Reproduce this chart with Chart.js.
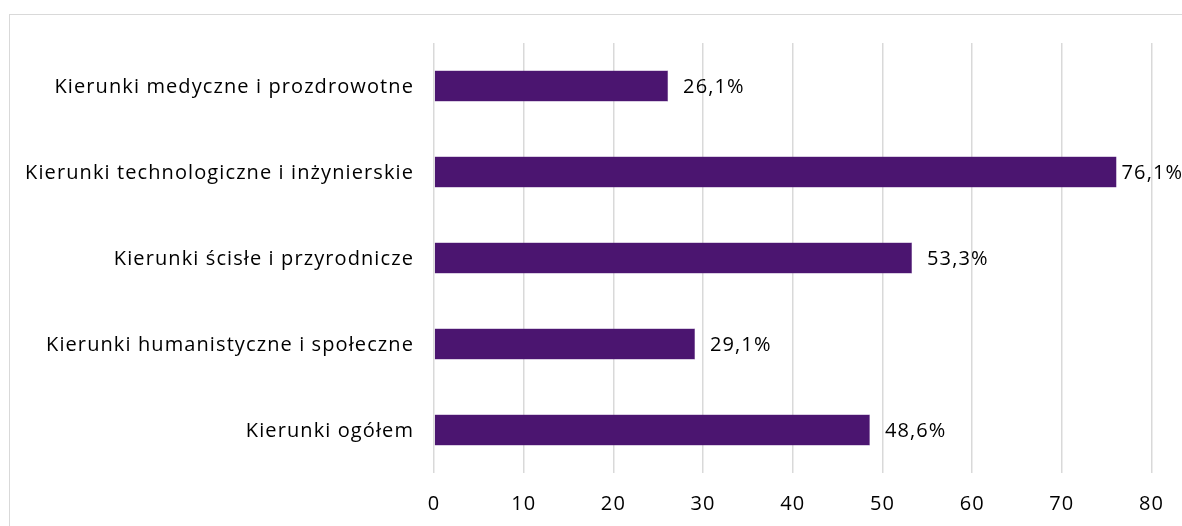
<!DOCTYPE html>
<html>
<head>
<meta charset="utf-8">
<script src="https://cdn.jsdelivr.net/npm/chart.js@4"></script>
<style>
  html, body { margin: 0; padding: 0; background: #fff; overflow: hidden; }
  #wrap { position: relative; width: 1182px; height: 526px; }
  #frame { position: absolute; left: 9px; top: 14px; width: 1200px; height: 600px;
           border-top: 1.5px solid #d9d9d9; border-left: 1.5px solid #d9d9d9; }
  canvas { position: absolute; left: 0; top: 0; }
</style>
</head>
<body>
<div id="wrap">
  <div id="frame"></div>
  <canvas id="chart" width="1182" height="526"></canvas>
</div>
<script>
'use strict';

const categories = [
    'Kierunki medyczne i prozdrowotne',
    'Kierunki technologiczne i inżynierskie',
    'Kierunki ścisłe i przyrodnicze',
    'Kierunki humanistyczne i społeczne',
    'Kierunki ogółem'
];
const values = [26.1, 76.1, 53.3, 29.1, 48.6];
const xTicks = [0, 10, 20, 30, 40, 50, 60, 70, 80];

const FONT = '"Open Sans", "Liberation Sans", sans-serif';
const FONT_SIZE = 20;
const SPACING = '1.1px';

// Lekko szersze odstępy liter (zbliżone do fontu Aptos)
const letterSpacing = {
    id: 'letterSpacing',
    beforeDraw(chart) {
        chart.ctx.letterSpacing = SPACING;
    }
};

// Etykiety kategorii po lewej stronie
const categoryLabels = {
    id: 'categoryLabels',
    afterDraw(chart) {
        const ctx = chart.ctx;
        const yScale = chart.scales.y;
        ctx.save();
        ctx.letterSpacing = SPACING;
        ctx.font = FONT_SIZE + 'px ' + FONT;
        ctx.fillStyle = '#000';
        ctx.textAlign = 'right';
        ctx.textBaseline = 'middle';
        categories.forEach((label, i) => {
            ctx.fillText(label, chart.chartArea.left - 20, yScale.getPixelForValue(i) + 1);
        });
        ctx.restore();
    }
};

// Etykiety wartości obok słupków
const valueLabels = {
    id: 'valueLabels',
    afterDatasetsDraw(chart) {
        const ctx = chart.ctx;
        const meta = chart.getDatasetMeta(0);
        ctx.save();
        ctx.letterSpacing = SPACING;
        ctx.font = FONT_SIZE + 'px ' + FONT;
        ctx.fillStyle = '#000';
        ctx.textAlign = 'left';
        ctx.textBaseline = 'middle';
        meta.data.forEach((bar, i) => {
            const txt = values[i].toFixed(1).replace('.', ',') + '%';
            const x = Math.min(bar.x + 15, chart.chartArea.right - 30);
            ctx.fillText(txt, x, bar.y + 1);
        });
        ctx.restore();
    }
};

new Chart(document.getElementById('chart').getContext('2d'), {
    type: 'bar',
    data: {
        labels: categories,
        datasets: [{
            data: values,
            backgroundColor: '#4b1570',
            borderColor: '#6a3a8c',
            borderWidth: 0.5,
            barPercentage: 0.36,
            categoryPercentage: 1
        }]
    },
    options: {
        indexAxis: 'y',
        responsive: false,
        animation: false,
        layout: { padding: { top: 43, right: 22, left: 0, bottom: 0 } },
        plugins: {
            legend: { display: false },
            tooltip: { enabled: false }
        },
        scales: {
            x: {
                min: 0,
                max: 80,
                afterBuildTicks(scale) {
                    scale.ticks = xTicks.map(v => ({ value: v }));
                },
                afterFit(scale) { scale.height = 53; },
                border: { display: false },
                grid: { color: '#d9d9d9', lineWidth: 1.5, drawTicks: false },
                ticks: { color: '#000', padding: 19, font: { family: FONT, size: FONT_SIZE } }
            },
            y: {
                afterFit(scale) { scale.width = 434; },
                border: { display: false },
                grid: { display: false, drawTicks: false },
                ticks: { display: false }
            }
        }
    },
    plugins: [letterSpacing, categoryLabels, valueLabels]
});
</script>
</body>
</html>
